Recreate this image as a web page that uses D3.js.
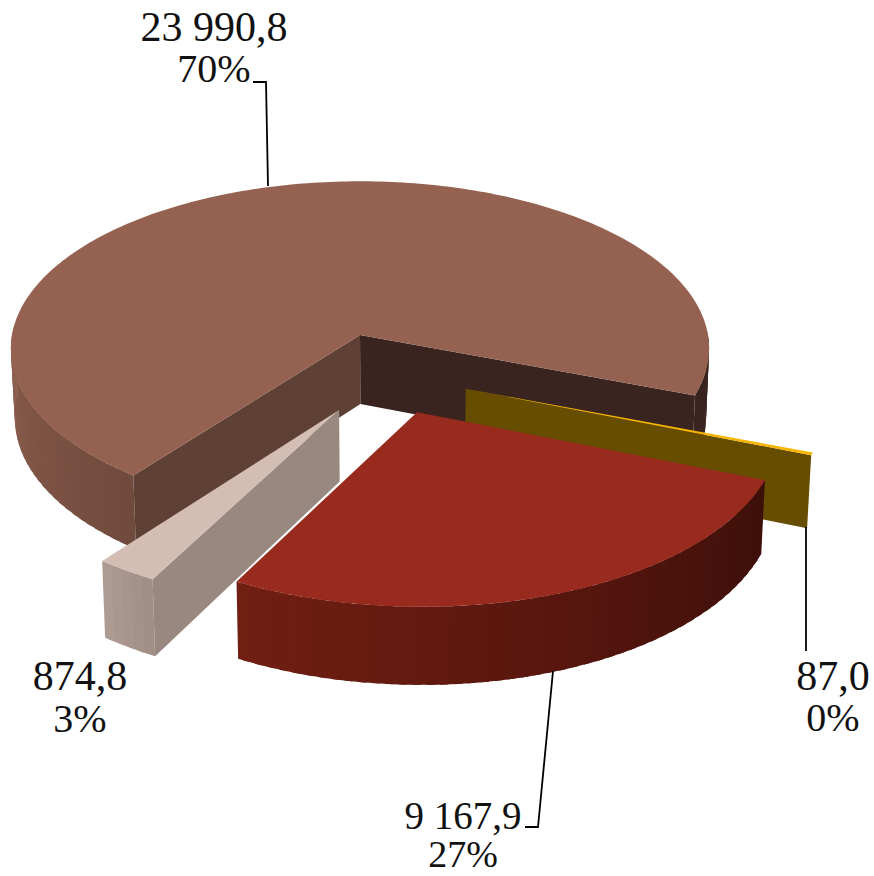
<!DOCTYPE html>
<html><head><meta charset="utf-8">
<script src="https://cdn.jsdelivr.net/npm/d3@7"></script>
<style>html,body{margin:0;padding:0;background:#fff}svg{display:block}
text{font-family:"Liberation Serif",serif;fill:#111;text-anchor:middle}</style>
</head><body><svg id="c" width="874" height="876"></svg>
<script>
const categories = ["A","B","C","D"];
const values = [23990.8, 87.0, 9167.9, 874.8];
const valueLabels = ["23 990,8","87,0","9 167,9","874,8"];
const percentLabels = ["70%","0%","27%","3%"];
const topColors = ["#956251","#f7b500","#982a1e","#d4bdb3"];
const wallColors = [["#8f604f","#6f4a3c"],["#664d00","#664d00"],["#721e13","#3c0f09"],["#ae9c93","#a08e85"]];
const sideColors = ["#5f4035","#664d00","#982a1e","#998880"];
const sideColor2 = "#3a241f";

const svg = d3.select("#c");
const CX=360, CY=335, K=348, K2=166, P=0.08, D=69;
const offsets = [[0,0],[0.296,0.316],[0.158,0.448],[-0.058,0.436]];
const pie = d3.pie().sort(null).value(d=>d).startAngle(217.6*Math.PI/180).endAngle((217.6+360)*Math.PI/180);
const arcs = pie(values);
const toTheta = a => a - Math.PI/2;

function pt(i,r,th,z){
  const X=offsets[i][0]+r*Math.cos(th), Y=offsets[i][1]+r*Math.sin(th), den=1-P*Y;
  let x=CX+X*K/den, y=CY+Y*K2/den;
  if(z){ y+=D/den; x=400+(x-400)*0.99; }
  return [x,y];
}
const pathLine=d3.line();
function poly(pts,fill){
  svg.append("path").attr("d",pathLine(pts)+"Z").attr("fill",fill);
}
function wall(i,a,b,c0,c1){
  const col=d3.scaleLinear().domain([a,b]).range([c0,c1]).interpolate(d3.interpolateRgb);
  const n=Math.max(4,Math.round(Math.abs(b-a)*180/Math.PI/2));
  const step=(b-a)/n;
  d3.range(n).forEach(s=>{
    const t=a+s*step, e=s<n-1?t+step*1.6:t+step;
    poly([pt(i,1,t,0),pt(i,1,e,0),pt(i,1,e,1),pt(i,1,t,1)],col(t+step/2));
  });
}
function sideFace(i,th,fill){ poly([pt(i,0,th,0),pt(i,1,th,0),pt(i,1,th,1),pt(i,0,th,1)],fill); }
function topFace(i,a,b){
  const n=Math.max(4,Math.round((b-a)*180/Math.PI));
  const pts=[pt(i,0,a,0)];
  for(const s of d3.range(n+1)) pts.push(pt(i,1,a+(b-a)*s/n,0));
  poly(pts,topColors[i]);
}
const th=arcs.map(d=>[toTheta(d.startAngle),toTheta(d.endAngle)]);

// main slice
wall(0,th[0][0],Math.PI*1.02,wallColors[0][1],wallColors[0][0]);
wall(0,2*Math.PI-0.02,th[0][1],sideColor2,sideColor2);
sideFace(0,th[0][1],sideColor2);
sideFace(0,th[0][0],sideColors[0]);
topFace(0,th[0][0],th[0][1]);
// small pale slice
wall(3,th[3][0],th[3][1],wallColors[3][1],wallColors[3][0]);
sideFace(3,th[3][0],sideColors[3]);
topFace(3,th[3][0],th[3][1]);
// thin slice
sideFace(1,th[1][1],sideColors[1]);
topFace(1,th[1][0],th[1][1]);
// red slice
wall(2,th[2][0],th[2][1],wallColors[2][1],wallColors[2][0]);
topFace(2,th[2][0],th[2][1]);

// leaders and labels
const leaders=[[[253,82],[266,82],[268,186]],[[806,527],[806,651]],[[525,827],[538,827],[553,671]]];
leaders.forEach(l=>svg.append("path").attr("d",pathLine(l)).attr("fill","none").attr("stroke","#000").attr("stroke-width",1.8));
const labelPos=[[214,41,82],[833,690,731],[463,829,867],[80,690,732]];
const valueSizes=[42,42,39,42];
const percentSizes=[40,40,38,40];
labelPos.forEach((p,i)=>{
  svg.append("text").attr("x",p[0]).attr("y",p[1]).attr("font-size",valueSizes[i]).text(valueLabels[i]);
  svg.append("text").attr("x",p[0]).attr("y",p[2]).attr("font-size",percentSizes[i]).text(percentLabels[i]);
});
</script></body></html>
